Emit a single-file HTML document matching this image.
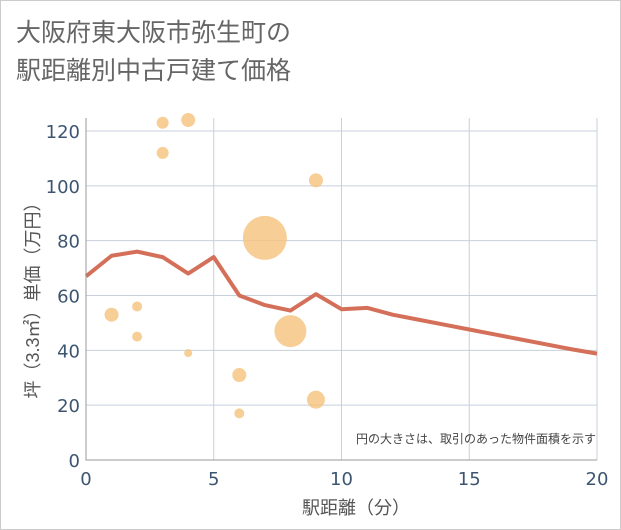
<!DOCTYPE html>
<html><head><meta charset="utf-8"><style>
body{margin:0;background:#fff;}
svg{display:block;font-family:"Liberation Sans","Noto Sans CJK JP",sans-serif;}
</style></head><body>
<svg id="c" width="621" height="530">
<rect x="0.5" y="0.5" width="620" height="529" fill="#fff" stroke="#ccc"/>
<text x="16" y="41" font-size="25" fill="#666">大阪府東大阪市弥生町の</text>
<text x="16" y="79" font-size="25" fill="#666">駅距離別中古戸建て価格</text>
<g id="grid"></g><g id="marks"></g><g id="axes"></g>
<text x="596" y="443" font-size="12" fill="#444" text-anchor="end">円の大きさは、取引のあった物件面積を示す</text>
<text x="356" y="514" font-size="18" fill="#555" text-anchor="middle">駅距離（分）</text>
<text transform="translate(39,296) rotate(-90)" font-size="18" fill="#555" text-anchor="middle">坪（3.3㎡）単価（万円）</text>
</svg>
<script>
const xTicks=[0,5,10,15,20];
const yTicks=[0,20,40,60,80,100,120];
const lineX=[0,1,2,3,4,5,6,7,8,9,10,11,12,13,14,15,16,17,18,19,20];
const lineY=[67,74.5,76,74,68,74,60,56.5,54.5,60.5,55,55.5,53,51.2,49.4,47.6,45.8,44,42.2,40.4,38.8];
const bubX=[1,2,2,3,3,4,4,6,6,7,8,9,9];
const bubY=[53,56,45,123,112,124,39,31,17,81,47,102,22];
const bubR=[7,5,5,6,6,7,4,7,5,22,16,7,9];
const X0=86,X1=597,Y0=460,Y1=131;
const sx=v=>X0+(v-0)/20*(X1-X0);
const sy=v=>Y0-(v/120)*(Y0-Y1);
const NS="http://www.w3.org/2000/svg";
const g=document.getElementById('grid'),m=document.getElementById('marks'),a=document.getElementById('axes');
function mk(tag,at,par){const e=document.createElementNS(NS,tag);for(const k in at)e.setAttribute(k,at[k]);par.appendChild(e);return e;}
const TF='"DejaVu Sans",sans-serif';
xTicks.forEach(t=>{const l=mk('line',{x1:sx(t),x2:sx(t),y1:Y1-13,y2:Y0,stroke:'#c8d0dc'},g);


const tx=mk('text',{x:sx(t),y:Y0+25,'font-size':18,'font-family':TF,fill:'#3d5570','text-anchor':'middle'},a);tx.textContent=t;

});
yTicks.forEach(t=>{const l=mk('line',{x1:X0,x2:X1,y1:sy(t),y2:sy(t),stroke:'#c8d0dc'},g);


const tx=mk('text',{x:X0-6,y:sy(t)+7,'font-size':18,'font-family':TF,fill:'#3d5570','text-anchor':'end'},a);tx.textContent=t;

});
const ax=mk('path',{d:`M${X0} ${Y1-13}V${Y0}H${X1}`,fill:'none',stroke:'#999'},a);


bubX.forEach((v,i)=>{const c=mk('circle',{cx:sx(v),cy:sy(bubY[i]),r:bubR[i],fill:'#f5c27a',opacity:0.8},m);

});
const p=mk('polyline',{points:lineX.map((v,i)=>sx(v)+','+sy(lineY[i])).join(' '),fill:'none',stroke:'#d4705a','stroke-width':4,'stroke-linejoin':'round'},m);


</script>
</body></html>
